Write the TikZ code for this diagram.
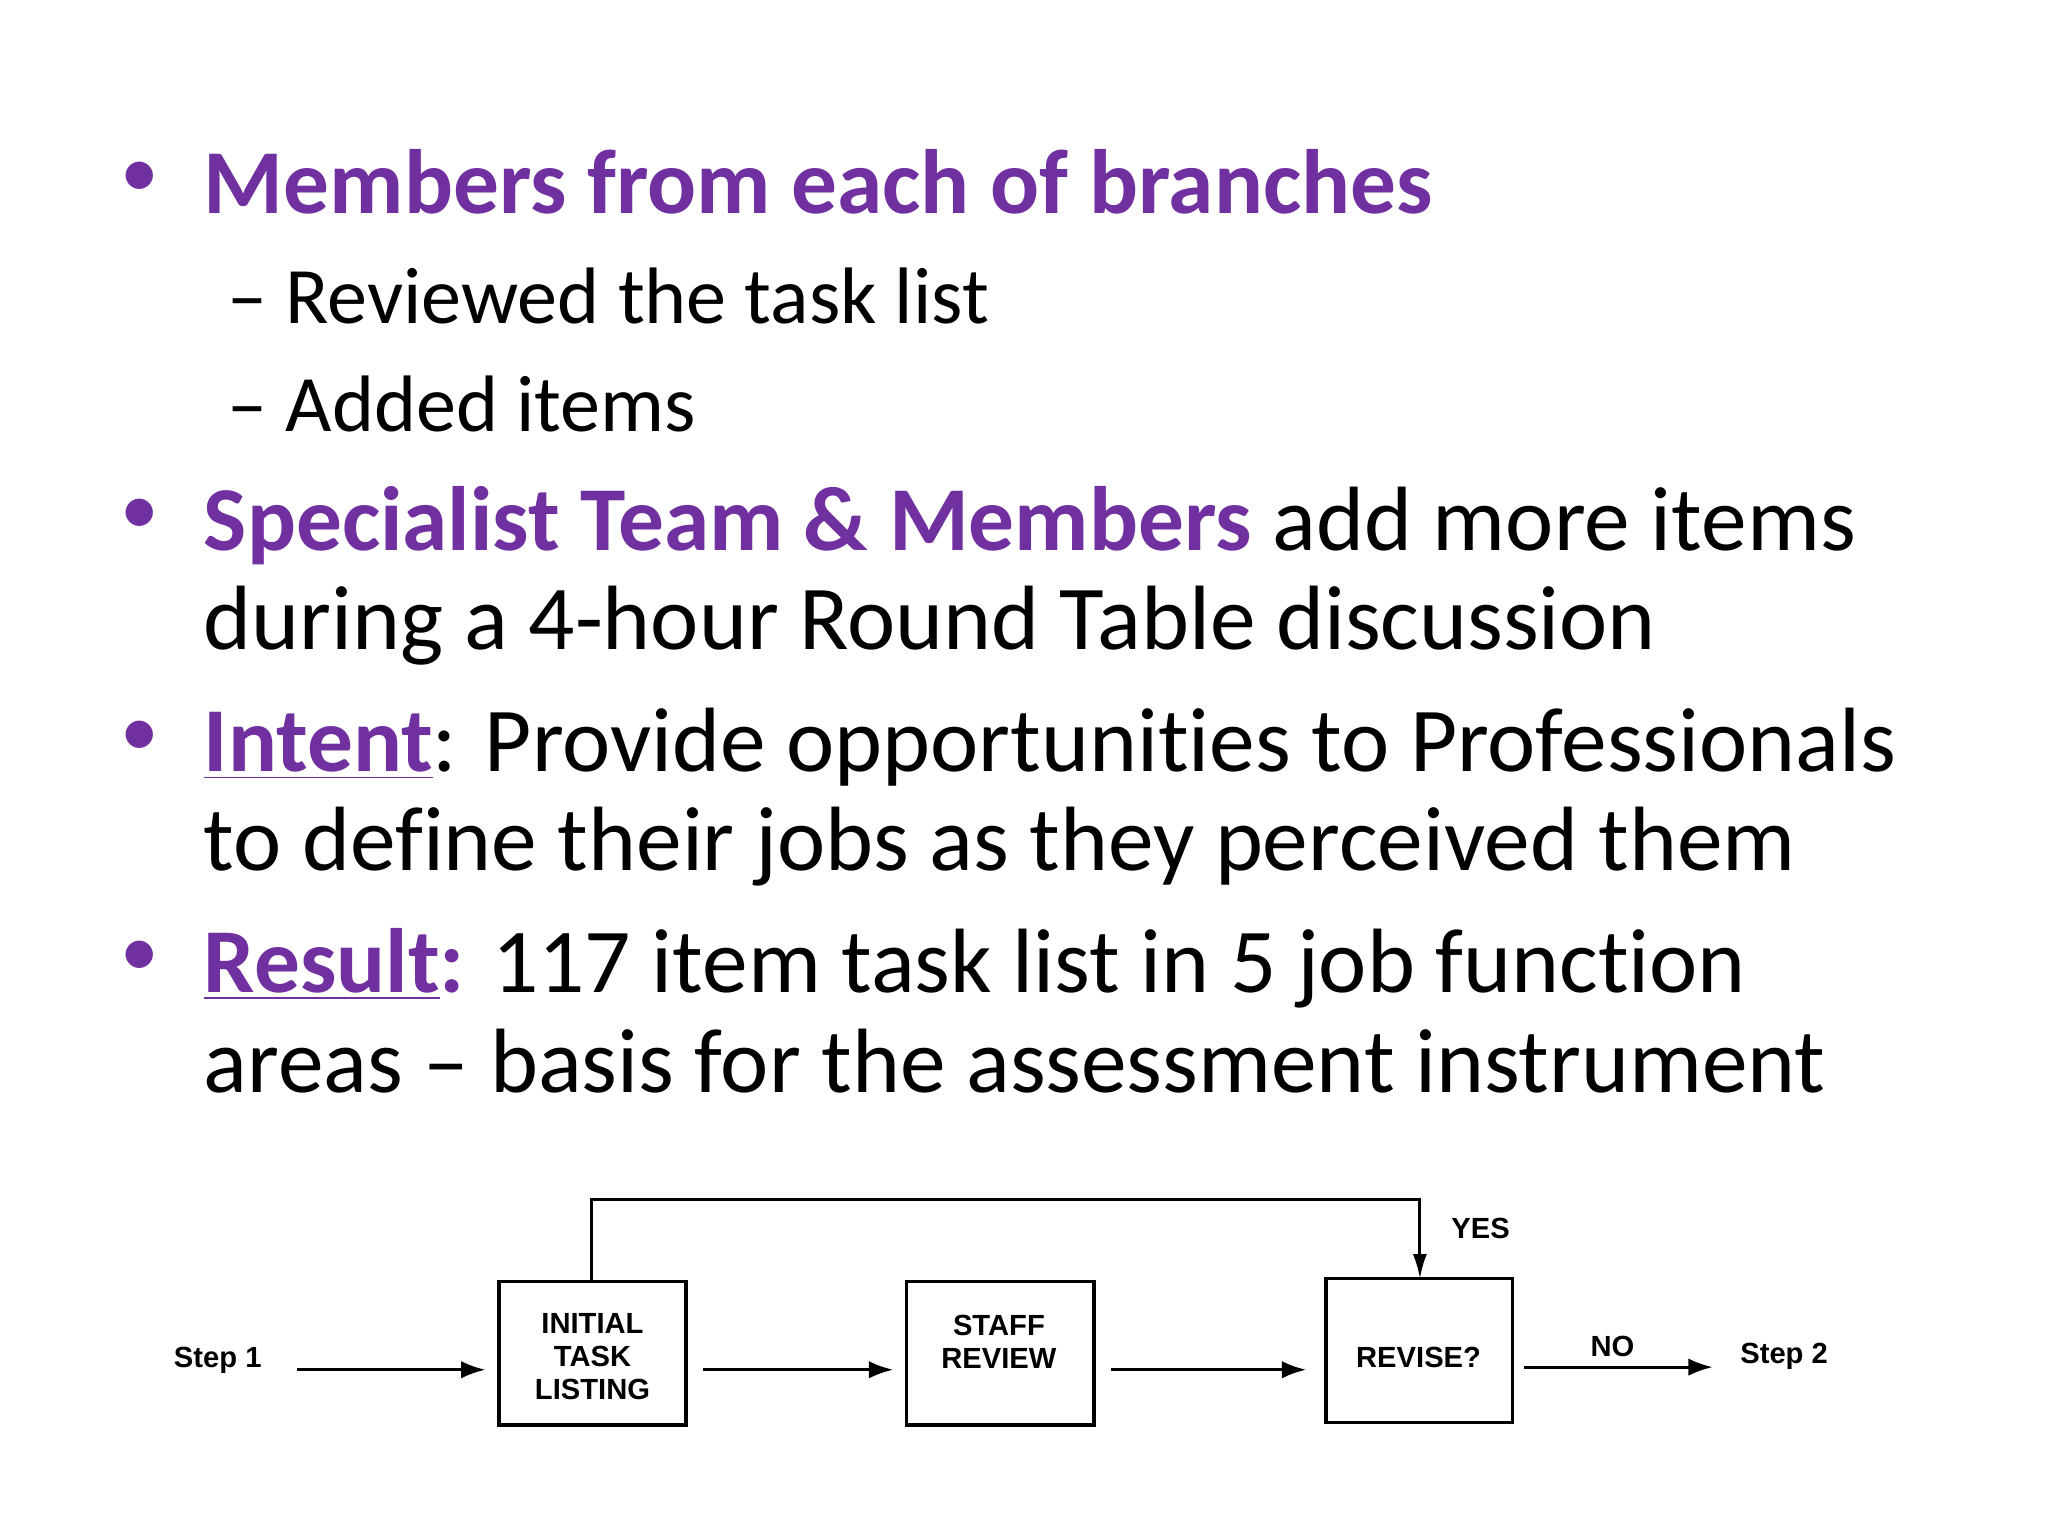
\documentclass[tikz,border=0pt]{standalone}
\usepackage{fontspec}
\setmainfont[Ligatures=NoCommon]{Carlito}
\newfontfamily\flowfont{Liberation Sans}
\usetikzlibrary{arrows.meta}
\definecolor{purp}{HTML}{7030A0}
\begin{document}
\begin{tikzpicture}[x=0.013196cm,y=-0.013196cm,
  lone/.style={anchor=base west,inner sep=0pt,font=\fontsize{26}{31}\selectfont},
  ltwo/.style={anchor=base west,inner sep=0pt,font=\fontsize{22.8}{27}\selectfont},
  bul/.style={anchor=base,inner sep=0pt,font=\fontsize{22}{27}\selectfont,text=purp},
  ftxt/.style={font=\flowfont\bfseries\fontsize{8.3}{9.3}\selectfont,align=center,inner sep=0pt},
  farr/.style={line width=0.9pt,-{Latex[length=7pt,width=5pt]}}]
\useasboundingbox (0,0) rectangle (1552,1164);
\fill[white] (0,0) rectangle (1552,1164);
\node[bul] (b1) at (106,150) {•};
\node[lone,text=purp] (t1) at (154,162) {\bfseries Members from each of branches};
\node[ltwo] (s1) at (172,245) {– Reviewed the task list};
\node[ltwo] (s2) at (172,327) {– Added items};
\node[bul] (b2) at (106,405) {•};
\node[lone] (t2) at (154,417) {\textcolor{purp}{\bfseries Specialist Team \& Members} add more items};
\node[lone] (t2b) at (154,492) {during a 4-hour Round Table discussion};
\node[bul] (b3) at (106,573) {•};
\node[lone] (t3) at (154,585) {\textcolor{purp}{\bfseries\underline{Intent}}: Provide opportunities to Professionals};
\node[lone] (t3b) at (154,660) {to define their jobs as they perceived them};
\node[bul] (b4) at (106,740) {•};
\node[lone] (t4) at (154,752) {\textcolor{purp}{\bfseries\underline{Result}:} 117 item task list in 5 job function};
\node[lone] (t4b) at (154,828) {areas – basis for the assessment instrument};
% flowchart
\draw[line width=1pt] (378,971) rectangle (520,1080);
\node[ftxt] (a) at (449,1028) {INITIAL\\TASK\\LISTING};
\draw[line width=1pt] (687,971) rectangle (829,1080);
\node[ftxt] (b) at (757,1017) {STAFF\\REVIEW};
\draw[line width=1pt] (1005,969) rectangle (1146,1078);
\node[ftxt] (c) at (1075,1029) {REVISE?};
\node[ftxt] (st1) at (165,1031) {Step 1};
\node[ftxt] (st2) at (1352,1028) {Step 2};
\node[ftxt] (no) at (1222,1020) {NO};
\node[ftxt] (yes) at (1122,931) {YES};
\coordinate (p1) at (225,1038); \coordinate (p2) at (368,1038);
\coordinate (p3) at (533,1038); \coordinate (p4) at (677,1038);
\coordinate (p5) at (842,1038); \coordinate (p6) at (990,1038);
\coordinate (p7) at (1155,1036); \coordinate (p8) at (1298,1036);
\draw[farr] (p1) -- (p2);
\draw[farr] (p3) -- (p4);
\draw[farr] (p5) -- (p6);
\draw[farr] (p7) -- (p8);
\coordinate (l0) at (448,971); \coordinate (l1) at (448,909);
\coordinate (l2) at (1076,909); \coordinate (l3) at (1076,969);
\draw[line width=0.8pt,-{Latex[length=7pt,width=4pt]}] (l0) -- (l1) -- (l2) -- (l3);
\end{tikzpicture}
\end{document}
